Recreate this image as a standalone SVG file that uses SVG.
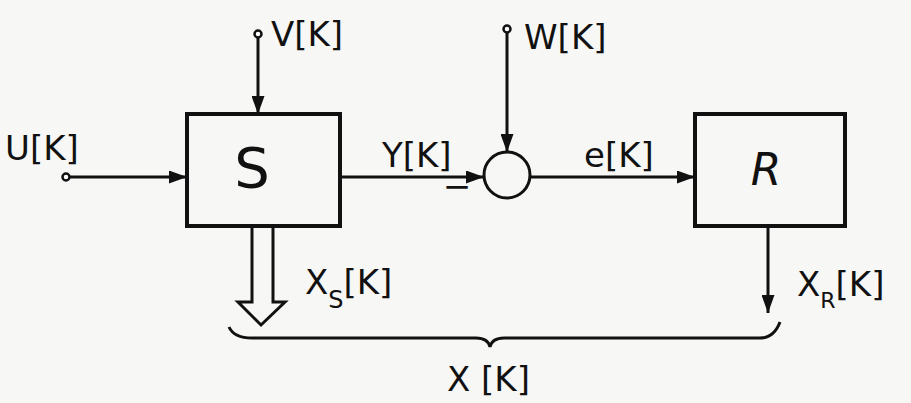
<svg xmlns="http://www.w3.org/2000/svg" width="911" height="403" viewBox="0 0 911 403">
<style>
.ln{stroke:#111;stroke-width:3;fill:none}
.bx{stroke:#111;stroke-width:4;fill:none}
.t{font-family:"DejaVu Sans","Liberation Sans",sans-serif;fill:#111;font-size:34px}
.big{font-family:"DejaVu Sans","Liberation Sans",sans-serif;fill:#111}
</style>
<defs>
<marker id="ah" viewBox="0 0 18 13" refX="18" refY="6.5" markerWidth="18" markerHeight="13" markerUnits="userSpaceOnUse" orient="auto">
<path d="M0,0 L18,6.5 L0,13 Z" fill="#111"/>
</marker>
</defs>
<rect width="911" height="403" fill="#f7f7f5"/>
<g id="connectors">
<line class="ln" x1="66" y1="177" x2="187" y2="177" marker-end="url(#ah)"/>
<line class="ln" x1="258" y1="38" x2="258" y2="114" marker-end="url(#ah)"/>
<line class="ln" x1="340" y1="177" x2="484" y2="177" marker-end="url(#ah)"/>
<line class="ln" x1="507" y1="33" x2="507" y2="152" marker-end="url(#ah)"/>
<line class="ln" x1="530" y1="177" x2="695" y2="177" marker-end="url(#ah)"/>
<line class="ln" x1="768" y1="227" x2="768" y2="313" marker-end="url(#ah)"/>
<path class="ln" d="M252,227 V302 H238 L261,325 L285,302 H273 V227"/>
<path class="ln" d="M229,327 Q234,338 252,338 H476 Q488,338 490,347 Q492,338 504,338 H760 Q774,338 780,322"/>
<circle cx="66" cy="177" r="3.5" fill="#fff" stroke="#111" stroke-width="2.5"/>
<circle cx="258" cy="34" r="3.5" fill="#fff" stroke="#111" stroke-width="2.5"/>
<circle cx="507" cy="29" r="3.5" fill="#fff" stroke="#111" stroke-width="2.5"/>
</g>
<g id="S">
<rect class="bx" x="187" y="114" width="153" height="112"/>
<text class="big" x="252" y="187" font-size="56" text-anchor="middle">S</text>
</g>
<g id="sum">
<circle cx="507" cy="175" r="23" class="ln"/>
<text class="t" x="457" y="198" text-anchor="middle">−</text>
</g>
<g id="R">
<rect class="bx" x="695" y="114" width="150" height="112"/>
<text class="big" x="766" y="185" font-size="44" font-style="italic" text-anchor="middle">R</text>
</g>
<g id="labels">
<text class="t" x="5" y="160">U[K]</text>
<text class="t" x="271" y="46">V[K]</text>
<text class="t" x="524" y="49" font-size="31">W[K]</text>
<text class="t" x="382" y="167" font-size="30">Y[K]</text>
<text class="t" x="584" y="167" font-size="32">e[K]</text>
<text class="t" x="305" y="294">X<tspan font-size="24" dy="14">S</tspan><tspan dy="-14">[K]</tspan></text>
<text class="t" x="797" y="296">X<tspan font-size="22" dy="12">R</tspan><tspan dy="-12">[K]</tspan></text>
<text class="t" x="447" y="391">X [K]</text>
</g>
</svg>
